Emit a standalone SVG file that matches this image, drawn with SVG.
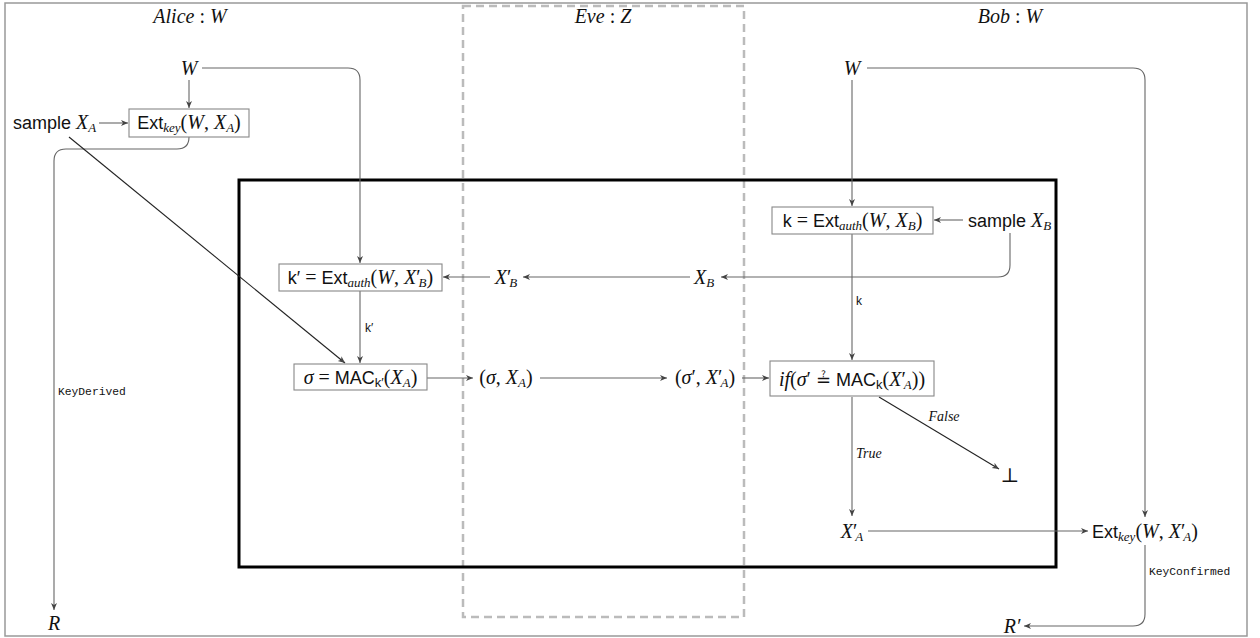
<svg xmlns="http://www.w3.org/2000/svg" width="1260" height="638" viewBox="0 0 1260 638">
<style>
.t{font-family:"Liberation Serif","DejaVu Serif",serif;font-size:20px;fill:#111}
.i{font-style:italic}
.n{font-style:normal}
.sf{font-family:"Liberation Sans","DejaVu Sans",sans-serif;font-style:normal;font-size:18px}
.sb{font-size:13px}
.box{fill:#fff;stroke:#888;stroke-width:1.1}
.c{fill:none;stroke:#666;stroke-width:1.1}
.cb{fill:none;stroke:#222;stroke-width:1.1}
.lbl{font-family:"Liberation Sans","DejaVu Sans",sans-serif;font-size:12px;fill:#111}
.mono{font-family:"Liberation Mono","DejaVu Sans Mono",monospace;font-size:11.3px;fill:#111}
.il{font-family:"Liberation Serif","DejaVu Serif",serif;font-style:italic;font-size:14px;fill:#111}
.q{font-family:"DejaVu Sans",sans-serif;font-style:normal;font-size:18px}
</style>
<defs>
<marker id="a" markerUnits="userSpaceOnUse" markerWidth="8" markerHeight="7" refX="7" refY="3" orient="auto">
<path d="M0,0 L7,3 L0,6 L2,3 z" fill="#444"/>
</marker>
</defs>
<rect x="5" y="3" width="1242" height="633" fill="#fff" stroke="#999" stroke-width="1.5"/>
<g id="eve-region"><rect x="463" y="6" width="281" height="611" fill="none" stroke="#bbb" stroke-width="2.5" stroke-dasharray="8 5"/></g>
<g id="inner-box"><rect x="239" y="180" width="817" height="387" fill="none" stroke="#000" stroke-width="3"/></g>
<g id="titles">
<text class="t i" x="190" y="23" text-anchor="middle">Alice<tspan class="n"> : </tspan>W</text>
<text class="t i" x="603" y="23" text-anchor="middle">Eve<tspan class="n"> : </tspan>Z</text>
<text class="t i" x="1010" y="23" text-anchor="middle">Bob<tspan class="n"> : </tspan>W</text>
</g>
<g id="connectors">
<path class="c" d="M189,80 L189,108" marker-end="url(#a)"/>
<path class="c" d="M202,68 L348,68 Q360,68 360,80 L360,263" marker-end="url(#a)"/>
<path class="c" d="M99,123 L128,123" marker-end="url(#a)"/>
<path class="c" d="M189,137 Q189,149 177,149 L66,149 Q54,149 54,161 L54,610" marker-end="url(#a)"/>
<path class="cb" d="M69,137 L345,363" marker-end="url(#a)"/>
<path class="c" d="M360,291 L360,363" marker-end="url(#a)"/>
<path class="c" d="M427,378 L473,378" marker-end="url(#a)"/>
<path class="c" d="M540,378 L667,378" marker-end="url(#a)"/>
<path class="c" d="M742,378 L769,378" marker-end="url(#a)"/>
<path class="c" d="M852,80 L852,206" marker-end="url(#a)"/>
<path class="c" d="M963,220 L934,220" marker-end="url(#a)"/>
<path class="c" d="M1010,233 L1010,265 Q1010,277 998,277 L721,277" marker-end="url(#a)"/>
<path class="c" d="M690,277 L523,277" marker-end="url(#a)"/>
<path class="c" d="M490,277 L443,277" marker-end="url(#a)"/>
<path class="c" d="M852,234 L852,360" marker-end="url(#a)"/>
<path class="c" d="M852,397 L852,516" marker-end="url(#a)"/>
<path class="cb" d="M879,397 L999,469" marker-end="url(#a)"/>
<path class="c" d="M868,531 L1088,531" marker-end="url(#a)"/>
<path class="c" d="M867,68 L1133,68 Q1145,68 1145,80 L1145,517" marker-end="url(#a)"/>
<path class="c" d="M1145,545 L1145,614 Q1145,626 1133,626 L1024,626" marker-end="url(#a)"/>
<text class="mono" x="58" y="395">KeyDerived</text>
<text class="lbl" x="365" y="332">k′</text>
<text class="lbl" x="856" y="305">k</text>
<text class="il" x="856" y="458">True</text>
<text class="il" x="944" y="421" text-anchor="middle">False</text>
<text class="mono" x="1149" y="575">KeyConfirmed</text>
</g>
<g id="alice-W"><text class="t i" x="189" y="75" text-anchor="middle">W</text></g>
<g id="bob-W"><text class="t i" x="852" y="75" text-anchor="middle">W</text></g>
<g id="sample-XA"><text class="t" x="13" y="129"><tspan class="sf">sample </tspan><tspan class="i">X</tspan><tspan class="i sb" dy="3">A</tspan></text></g>
<g id="ext-key-alice">
<rect class="box" x="129" y="109" width="120" height="28"/>
<text class="t" x="189" y="129" text-anchor="middle"><tspan class="sf">Ext</tspan><tspan class="i sb" dy="3">key</tspan><tspan dy="-3">(</tspan><tspan class="i">W</tspan>, <tspan class="i">X</tspan><tspan class="i sb" dy="3">A</tspan><tspan dy="-3">)</tspan></text>
</g>
<g id="R"><text class="t i" x="54" y="630" text-anchor="middle">R</text></g>
<g id="k-prime">
<rect class="box" x="279" y="264" width="163" height="27"/>
<text class="t" x="360.5" y="284" text-anchor="middle"><tspan class="sf">k′</tspan> = <tspan class="sf">Ext</tspan><tspan class="i sb" dy="3">auth</tspan><tspan dy="-3">(</tspan><tspan class="i">W</tspan>, <tspan class="i">X</tspan>′<tspan class="i sb" dy="3" dx="-2">B</tspan><tspan dy="-3">)</tspan></text>
</g>
<g id="mac">
<rect class="box" x="294" y="364" width="133" height="26"/>
<text class="t" x="360.5" y="384" text-anchor="middle"><tspan class="i">σ</tspan> = <tspan class="sf">MAC</tspan><tspan class="sf sb" dy="3">k′</tspan><tspan dy="-3">(</tspan><tspan class="i">X</tspan><tspan class="i sb" dy="3">A</tspan><tspan dy="-3">)</tspan></text>
</g>
<g id="sigma-XA"><text class="t" x="506" y="384" text-anchor="middle">(<tspan class="i">σ</tspan>, <tspan class="i">X</tspan><tspan class="i sb" dy="3">A</tspan><tspan dy="-3">)</tspan></text></g>
<g id="sigma-XA-prime"><text class="t" x="705" y="384" text-anchor="middle">(<tspan class="i">σ</tspan>′, <tspan class="i">X</tspan>′<tspan class="i sb" dy="3" dx="-2">A</tspan><tspan dy="-3">)</tspan></text></g>
<g id="XB-prime"><text class="t" x="506" y="284" text-anchor="middle"><tspan class="i">X</tspan>′<tspan class="i sb" dy="3" dx="-2">B</tspan></text></g>
<g id="XB"><text class="t" x="704" y="284" text-anchor="middle"><tspan class="i">X</tspan><tspan class="i sb" dy="3">B</tspan></text></g>
<g id="k-box">
<rect class="box" x="772" y="207" width="161" height="27"/>
<text class="t" x="852.5" y="227" text-anchor="middle"><tspan class="sf">k</tspan> = <tspan class="sf">Ext</tspan><tspan class="i sb" dy="3">auth</tspan><tspan dy="-3">(</tspan><tspan class="i">W</tspan>, <tspan class="i">X</tspan><tspan class="i sb" dy="3">B</tspan><tspan dy="-3">)</tspan></text>
</g>
<g id="sample-XB"><text class="t" x="968" y="227"><tspan class="sf">sample </tspan><tspan class="i">X</tspan><tspan class="i sb" dy="3">B</tspan></text></g>
<g id="if-box">
<rect class="box" x="770" y="361" width="164" height="35"/>
<text class="t" x="852" y="386" text-anchor="middle"><tspan class="i">if</tspan>(<tspan class="i">σ</tspan>′ <tspan class="q">≟</tspan> <tspan class="sf">MAC</tspan><tspan class="sf sb" dy="3">k</tspan><tspan dy="-3">(</tspan><tspan class="i">X</tspan>′<tspan class="i sb" dy="3" dx="-2">A</tspan><tspan dy="-3">))</tspan></text>
</g>
<g id="bottom"><text class="t" x="1010" y="482" font-size="20" text-anchor="middle">⊥</text></g>
<g id="XA-prime"><text class="t" x="852" y="538" text-anchor="middle"><tspan class="i">X</tspan>′<tspan class="i sb" dy="3" dx="-2">A</tspan></text></g>
<g id="ext-key-bob"><text class="t" x="1145" y="538" text-anchor="middle"><tspan class="sf">Ext</tspan><tspan class="i sb" dy="3">key</tspan><tspan dy="-3">(</tspan><tspan class="i">W</tspan>, <tspan class="i">X</tspan>′<tspan class="i sb" dy="3" dx="-2">A</tspan><tspan dy="-3">)</tspan></text></g>
<g id="R-prime"><text class="t i" x="1012" y="633" text-anchor="middle">R′</text></g>
</svg>
